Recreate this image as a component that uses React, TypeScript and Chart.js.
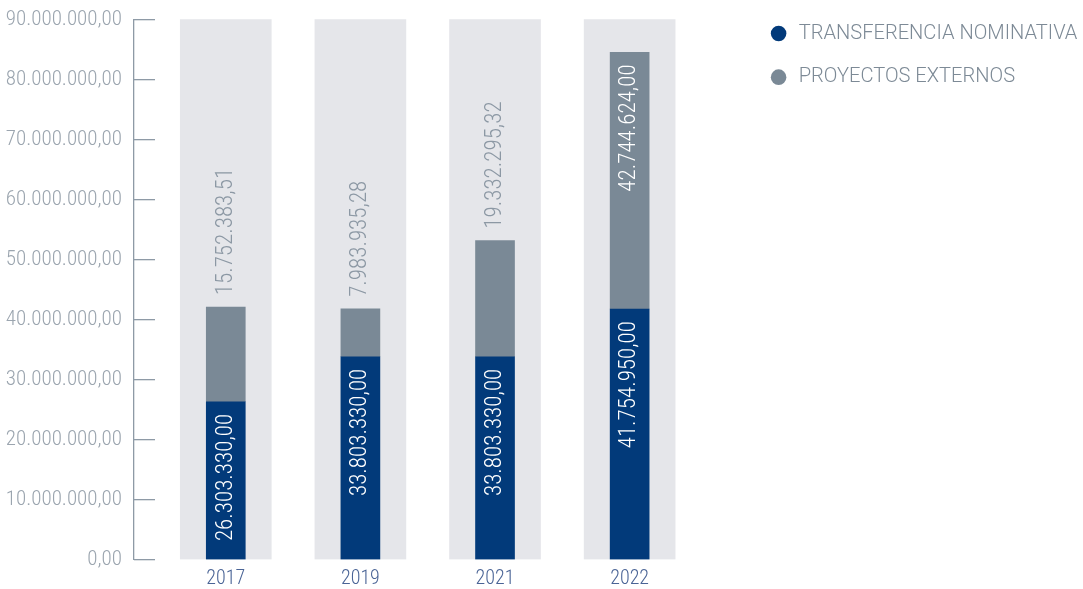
import React, { useEffect, useRef } from "react";
import { Chart, registerables } from "chart.js";

Chart.register(...registerables);

// ---- data ----
const years = ["2017", "2019", "2021", "2022"];
const transferenciaNominativa = [26303330.0, 33803330.0, 33803330.0, 41754950.0];
const proyectosExternos = [15752383.51, 7983935.28, 19332295.32, 42744624.0];
const axisMax = 90000000;
const axisStep = 10000000;
const seriesNames = ["TRANSFERENCIA NOMINATIVA", "PROYECTOS EXTERNOS"];

// ---- styles ----
const NAVY = "#023a7a";
const GREY_BAR = "#7a8996";
const BG_COL = "#e5e6ea";
const AXIS_LINE = "#8e9aa6";
const Y_LABEL = "#9ba5af";
const X_LABEL = "#4a6496";
const LEGEND_TEXT = "#7d8a96";
const OUT_LABEL = "#8c98a4";
const FAMILY = "Roboto";
const W300 = "300 condensed";

function fmt(v: number): string {
  const [i, d] = Math.abs(v).toFixed(2).split(".");
  const grouped = i.replace(/\B(?=(\d{3})+(?!\d))/g, ".");
  return (v < 0 ? "-" : "") + grouped + "," + d;
}

const valueLabels = {
  id: "valueLabels",
  afterDatasetsDraw(chart: any) {
    const ctx = chart.ctx as CanvasRenderingContext2D;
    const PAD = 12;
    chart.data.datasets.forEach((ds: any, di: number) => {
      if (ds.stack !== "main") return;
      const meta = chart.getDatasetMeta(di);
      meta.data.forEach((bar: any, i: number) => {
        const { x, y, base } = bar.getProps(["x", "y", "base"], true);
        const text = fmt(ds.data[i].y);
        ctx.save();
        ctx.font = `${W300} 23px ${FAMILY}`;
        const w = ctx.measureText(text).width;
        const h = Math.abs(base - y);
        ctx.translate(x, Math.min(y, base));
        ctx.rotate(-Math.PI / 2);
        ctx.textBaseline = "middle";
        if (w + 2 * PAD <= h) {
          ctx.textAlign = "right";
          ctx.fillStyle = "#ffffff";
          ctx.fillText(text, -PAD, 0);
        } else {
          ctx.textAlign = "left";
          ctx.fillStyle = OUT_LABEL;
          ctx.fillText(text, PAD, 0);
        }
        ctx.restore();
      });
    });
  },
};

export default function App() {
  const ref = useRef<HTMLCanvasElement>(null);

  useEffect(() => {
    Chart.defaults.font.family = FAMILY;
    const idx = years.map((_, i) => i);
    const chart = new Chart(ref.current!, {
      type: "bar",
      data: {
        datasets: [
          {
            label: seriesNames[0],
            data: idx.map((i) => ({ x: i, y: transferenciaNominativa[i] })),
            backgroundColor: NAVY,
            borderWidth: 0,
            stack: "main",
            grouped: false,
            barThickness: 39,
            order: 0,
            yAxisID: "y",
          },
          {
            label: seriesNames[1],
            data: idx.map((i) => ({ x: i, y: proyectosExternos[i] })),
            backgroundColor: GREY_BAR,
            borderWidth: 0,
            stack: "main",
            grouped: false,
            barThickness: 39,
            order: 0,
            yAxisID: "y",
          },
          {
            label: "bg",
            data: idx.map((i) => ({ x: i, y: axisMax })),
            backgroundColor: BG_COL,
            borderWidth: 0,
            stack: "bg",
            grouped: false,
            barThickness: 91,
            order: 10,
            yAxisID: "y",
          },
        ] as any,
      },
      options: {
        animation: false,
        responsive: false,
        events: [],
        layout: { padding: { top: 0, left: 0, right: -4.35, bottom: 0 } },
        plugins: {
          tooltip: { enabled: false },
          legend: {
            position: "right",
            align: "start",
            maxWidth: 1000,
            labels: {
              filter: (item: any) => item.text !== "bg",
              usePointStyle: true,
              pointStyle: "circle",
              boxWidth: 20,
              boxHeight: 11,
              padding: 23.5,
              color: LEGEND_TEXT,
              font: { family: FAMILY, size: 20.1, weight: 300 },
            },
          },
        },
        scales: {
          x: {
            type: "linear",
            position: "bottom",
            min: -0.5257,
            max: 3.8576,
            offset: false,
            grid: { display: false, drawTicks: false },
            border: { display: false },
            afterFit: (s: any) => {
              s.height = 29.3;
            },
            ticks: {
              stepSize: 1,
              includeBounds: false,
              autoSkip: false,
              maxRotation: 0,
              padding: 7,
              color: X_LABEL,
              font: { family: FAMILY, size: 20, weight: W300 as any },
              callback: (v: any) => years[v as number] ?? "",
            },
          },
          y: {
            type: "linear",
            position: "left",
            stacked: true,
            min: 0,
            max: axisMax,
            weight: 0,
            afterFit: (s: any) => {
              s.width = 21;
            },
            grid: {
              drawOnChartArea: false,
              drawTicks: true,
              tickLength: 21,
              color: AXIS_LINE,
              lineWidth: 1.3,
            },
            border: { display: false },
            ticks: { display: false, stepSize: axisStep },
          },
          yL: {
            type: "linear",
            position: "left",
            min: 0,
            max: axisMax,
            weight: 1,
            afterFit: (s: any) => {
              s.width = 134;
            },
            grid: { display: false, drawTicks: false },
            border: { display: true, color: AXIS_LINE, width: 1.3 },
            ticks: {
              stepSize: axisStep,
              padding: 12,
              color: Y_LABEL,
              font: { family: FAMILY, size: 21, weight: W300 as any, lineHeight: 0.7 },
              callback: (v: any) => fmt(Number(v)),
            },
          },
        } as any,
      },
      plugins: [valueLabels],
    });
    return () => chart.destroy();
  }, []);

  return (
    <div style={{ position: "absolute", left: 0, top: 0, width: 1083, height: 589, background: "#fff" }}>
      <canvas ref={ref} width={1083} height={589} style={{ display: "block" }} />
    </div>
  );
}
